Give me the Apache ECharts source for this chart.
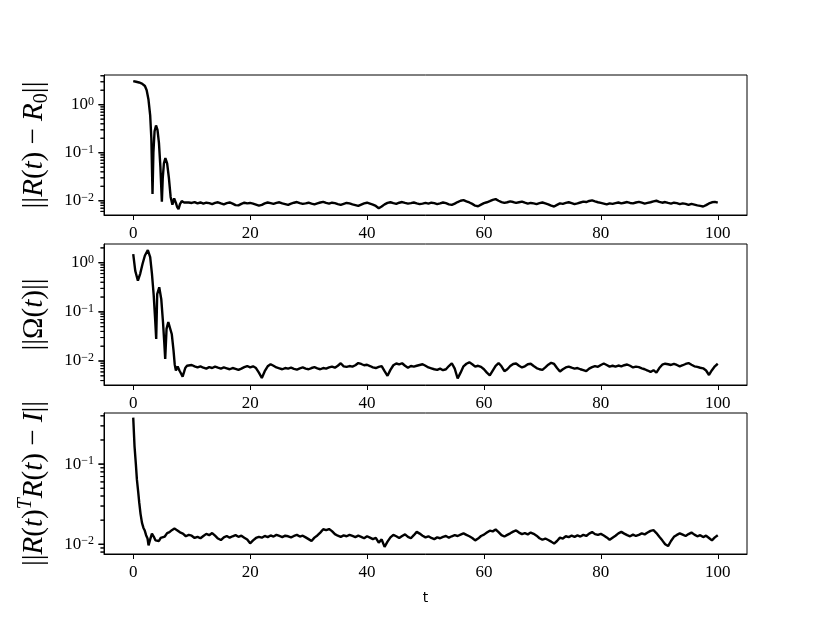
<!DOCTYPE html>
<html>
<head>
<meta charset="utf-8">
<script src="https://cdn.jsdelivr.net/npm/echarts@6/dist/echarts.min.js"></script>
<style>
html,body{margin:0;padding:0;background:#fff;}
#chart{width:830px;height:623px;}
</style>
</head>
<body>
<div id="chart"></div>
<script>
// ---------- data ----------
const xTicks = [0, 20, 40, 60, 80, 100];
const yMajorTop = [0.01, 0.1, 1];
const yMajorMid = [0.01, 0.1, 1];
const yMajorBot = [0.01, 0.1];

// early transient (t < 10)
const tHeadTop = [0, 0.5, 1.0, 1.5, 2.0, 2.3, 2.6, 2.9, 3.1, 3.3, 3.45, 3.65, 3.9, 4.15, 4.4, 4.65, 4.9, 5.05, 5.25, 5.5, 5.8, 6.1, 6.4, 6.7, 7.0, 7.3, 7.5, 7.75, 8.0, 8.3, 8.7, 9.0, 9.5];
const vHeadTop = [3.1, 3.0, 2.9, 2.75, 2.45, 2.0, 1.3, 0.6, 0.2, 0.0138, 0.1, 0.28, 0.37, 0.3, 0.16, 0.05, 0.0095, 0.03, 0.06, 0.077, 0.06, 0.03, 0.012, 0.0083, 0.0112, 0.009, 0.0075, 0.0067, 0.0085, 0.0098, 0.0092, 0.0090, 0.0092];

const tHeadMid = [0, 0.35, 0.8, 1.2, 1.6, 2.0, 2.5, 2.9, 3.2, 3.5, 3.75, 3.93, 4.1, 4.45, 4.8, 5.1, 5.3, 5.47, 5.7, 6.0, 6.2, 6.6, 6.9, 7.1, 7.3, 7.6, 7.9, 8.2, 8.45, 8.7, 8.9, 9.2, 9.5];
const vHeadMid = [1.5, 0.68, 0.43, 0.6, 0.95, 1.4, 1.8, 1.3, 0.6, 0.22, 0.07, 0.028, 0.23, 0.316, 0.18, 0.06, 0.025, 0.011, 0.045, 0.062, 0.062, 0.035, 0.016, 0.0085, 0.0064, 0.0077, 0.0064, 0.0055, 0.0048, 0.0060, 0.0072, 0.0080, 0.0085];

const tHeadBot = [0, 0.22, 0.45, 0.63, 0.85, 1.03, 1.25, 1.5, 1.75, 1.95, 2.2, 2.45, 2.62, 2.9, 3.2, 3.5, 3.8, 4.1, 4.4, 4.7, 5.0, 5.4, 5.8, 6.2, 6.6, 7.05, 7.5, 8.0, 8.5, 9.0, 9.5];
const vHeadBot = [0.38, 0.168, 0.1, 0.064, 0.045, 0.033, 0.024, 0.0185, 0.0160, 0.0150, 0.0130, 0.0118, 0.0097, 0.0115, 0.0136, 0.0125, 0.0112, 0.0116, 0.0110, 0.0120, 0.0118, 0.0125, 0.0138, 0.0142, 0.0150, 0.0157, 0.0150, 0.0141, 0.0136, 0.0126, 0.0131];

// steady-state part, sampled every 0.5 from t = 10 to t = 100
const tTail = [];
for (let i = 0; i <= 180; i++) tTail.push(10 + i * 0.5);

const vTailTop = [
0.0090,0.0094,0.0088,0.0092,0.0087,0.0091,0.0089,0.0085,0.0090,0.0093,0.0088,0.0084,0.0089,0.0092,0.0087,0.0081,0.0080,0.0086,0.0091,0.0088,
0.0090,0.0087,0.0083,0.0079,0.0082,0.0088,0.0092,0.0089,0.0086,0.0090,0.0093,0.0088,0.0085,0.0082,0.0087,0.0091,0.0094,0.0089,0.0086,0.0088,
0.0091,0.0087,0.0084,0.0088,0.0092,0.0095,0.0090,0.0087,0.0091,0.0089,0.0085,0.0082,0.0086,0.0090,0.0088,0.0084,0.0081,0.0078,0.0083,0.0088,
0.0091,0.0087,0.0083,0.0078,0.0070,0.0076,0.0084,0.0090,0.0093,0.0089,0.0086,0.0091,0.0094,0.0090,0.0087,0.0089,0.0092,0.0088,0.0085,0.0087,
0.0090,0.0087,0.0091,0.0089,0.0085,0.0088,0.0092,0.0089,0.0084,0.0082,0.0087,0.0094,0.0100,0.0103,0.0097,0.0092,0.0086,0.0079,0.0077,0.0083,
0.0089,0.0093,0.0098,0.0104,0.0108,0.0100,0.0094,0.0090,0.0093,0.0097,0.0094,0.0090,0.0093,0.0096,0.0091,0.0087,0.0090,0.0088,0.0085,0.0089,
0.0092,0.0088,0.0084,0.0079,0.0076,0.0082,0.0088,0.0086,0.0090,0.0093,0.0089,0.0085,0.0088,0.0092,0.0096,0.0094,0.0099,0.0102,0.0097,0.0093,
0.0090,0.0087,0.0084,0.0088,0.0086,0.0089,0.0092,0.0088,0.0091,0.0094,0.0090,0.0088,0.0092,0.0095,0.0091,0.0087,0.0090,0.0093,0.0097,0.0100,
0.0095,0.0091,0.0094,0.0090,0.0087,0.0091,0.0089,0.0085,0.0088,0.0086,0.0082,0.0086,0.0083,0.0080,0.0078,0.0076,0.0081,0.0088,0.0093,0.0095,
0.0091];

const vTailMid = [
0.0083,0.0078,0.0074,0.0078,0.0073,0.0070,0.0075,0.0072,0.0077,0.0073,0.0070,0.0074,0.0071,0.0068,0.0072,0.0069,0.0066,0.0070,0.0075,0.0079,
0.0074,0.0078,0.0072,0.0058,0.0045,0.0062,0.0078,0.0086,0.0080,0.0074,0.0071,0.0068,0.0072,0.0070,0.0073,0.0069,0.0067,0.0071,0.0074,0.0070,
0.0068,0.0072,0.0075,0.0071,0.0068,0.0072,0.0070,0.0074,0.0077,0.0073,0.0080,0.0090,0.0078,0.0076,0.0079,0.0077,0.0082,0.0091,0.0087,0.0082,
0.0084,0.0079,0.0074,0.0072,0.0076,0.0079,0.0062,0.0050,0.0066,0.0082,0.0089,0.0085,0.0090,0.0080,0.0073,0.0079,0.0077,0.0080,0.0083,0.0086,
0.0080,0.0074,0.0071,0.0068,0.0066,0.0070,0.0065,0.0068,0.0079,0.0090,0.0070,0.0044,0.0058,0.0078,0.0088,0.0094,0.0086,0.0077,0.0080,0.0076,
0.0068,0.0058,0.0051,0.0064,0.0080,0.0091,0.0078,0.0062,0.0068,0.0079,0.0087,0.0089,0.0080,0.0074,0.0078,0.0086,0.0088,0.0079,0.0072,0.0068,
0.0066,0.0074,0.0084,0.0092,0.0087,0.0072,0.0061,0.0068,0.0074,0.0077,0.0073,0.0070,0.0072,0.0068,0.0065,0.0062,0.0070,0.0075,0.0079,0.0076,
0.0083,0.0089,0.0083,0.0077,0.0080,0.0077,0.0081,0.0078,0.0082,0.0085,0.0080,0.0074,0.0077,0.0075,0.0071,0.0068,0.0064,0.0060,0.0065,0.0058,
0.0072,0.0084,0.0088,0.0086,0.0083,0.0087,0.0083,0.0078,0.0082,0.0087,0.0091,0.0084,0.0078,0.0076,0.0073,0.0071,0.0064,0.0052,0.0065,0.0078,
0.0088];

const vTailBot = [
0.0128,0.0120,0.0124,0.0119,0.0127,0.0135,0.0130,0.0138,0.0128,0.0118,0.0113,0.0122,0.0127,0.0121,0.0126,0.0130,0.0124,0.0128,0.0121,0.0115,
0.0103,0.0112,0.0120,0.0124,0.0121,0.0127,0.0123,0.0129,0.0125,0.0131,0.0127,0.0123,0.0128,0.0126,0.0122,0.0127,0.0131,0.0125,0.0128,0.0122,
0.0116,0.0110,0.0121,0.0129,0.0140,0.0154,0.0150,0.0155,0.0146,0.0134,0.0128,0.0124,0.0129,0.0126,0.0131,0.0127,0.0123,0.0128,0.0124,0.0119,
0.0126,0.0121,0.0116,0.0120,0.0105,0.0115,0.0093,0.0108,0.0122,0.0131,0.0126,0.0120,0.0127,0.0133,0.0124,0.0119,0.0130,0.0143,0.0136,0.0128,
0.0122,0.0126,0.0120,0.0116,0.0122,0.0119,0.0124,0.0127,0.0121,0.0126,0.0130,0.0127,0.0132,0.0137,0.0131,0.0126,0.0120,0.0112,0.0118,0.0127,
0.0132,0.0140,0.0148,0.0145,0.0153,0.0142,0.0130,0.0125,0.0131,0.0137,0.0144,0.0149,0.0140,0.0134,0.0138,0.0133,0.0140,0.0135,0.0128,0.0119,
0.0114,0.0118,0.0113,0.0108,0.0102,0.0110,0.0121,0.0118,0.0126,0.0123,0.0128,0.0124,0.0129,0.0125,0.0131,0.0127,0.0136,0.0142,0.0134,0.0131,
0.0135,0.0129,0.0122,0.0114,0.0121,0.0128,0.0137,0.0143,0.0136,0.0130,0.0126,0.0132,0.0127,0.0131,0.0137,0.0133,0.0140,0.0147,0.0150,0.0138,
0.0124,0.0112,0.0100,0.0095,0.0110,0.0124,0.0131,0.0137,0.0132,0.0127,0.0134,0.0140,0.0132,0.0126,0.0130,0.0123,0.0128,0.0120,0.0112,0.0122,
0.0130];

// axis ranges (log y)
const yRangeTop = [0.00505, 4.15];
const yRangeMid = [0.00325, 2.4];
const yRangeBot = [0.00757, 0.434];
const xRange = [-5, 105];

// ---------- build ----------
function pairs(t, v) { return t.map((x, i) => [x, v[i]]); }
const dataTop = pairs(tHeadTop.concat(tTail), vHeadTop.concat(vTailTop));
const dataMid = pairs(tHeadMid.concat(tTail), vHeadMid.concat(vTailMid));
const dataBot = pairs(tHeadBot.concat(tTail), vHeadBot.concat(vTailBot));

function minorValues(range) {
  const out = [];
  for (let e = -4; e <= 1; e++) {
    for (let k = 2; k <= 9; k++) {
      const v = +(k * Math.pow(10, e)).toPrecision(6);
      if (v >= range[0] && v <= range[1]) out.push(v);
    }
  }
  return out;
}

const SERIF = "'Liberation Serif', 'DejaVu Serif', serif";
const tickFmt = function (v) {
  const e = Math.round(Math.log10(v));
  return '{b|10}{s|' + (e < 0 ? '\u2212' : '') + Math.abs(e) + '}';
};
const tickRich = {
  b: { fontFamily: SERIF, fontSize: 17, color: '#000', lineHeight: 18, verticalAlign: 'middle' },
  s: { fontFamily: SERIF, fontSize: 12, color: '#000', lineHeight: 10, verticalAlign: 'top' }
};
const nameRich = {
  n: { fontFamily: SERIF, fontSize: 29, color: '#000', lineHeight: 36, verticalAlign: 'middle' },
  i: { fontFamily: SERIF, fontSize: 29, fontStyle: 'italic', color: '#000', lineHeight: 36, verticalAlign: 'middle' },
  sub: { fontFamily: SERIF, fontSize: 20, color: '#000', lineHeight: 20, verticalAlign: 'bottom' },
  sup: { fontFamily: SERIF, fontSize: 20, fontStyle: 'italic', color: '#000', lineHeight: 20, verticalAlign: 'top' }
};

const grids = [
  { left: 104, right: 83, top: 75, height: 140 },
  { left: 104, right: 83, top: 244, height: 141 },
  { left: 104, right: 83, top: 413, height: 141 }
].map(g => Object.assign(g, { show: true, borderColor: '#000', borderWidth: 1 }));

const xAxes = [0, 1, 2].map(i => ({
  gridIndex: i, type: 'value', min: xRange[0], max: xRange[1],
  axisLine: { show: true, onZero: false, lineStyle: { color: '#000', width: 1 } },
  splitLine: { show: false },
  axisTick: { show: true, customValues: xTicks, length: 5, inside: false, lineStyle: { color: '#000', width: 1 } },
  axisLabel: { show: true, customValues: xTicks, margin: 10, fontFamily: SERIF, fontSize: 17, color: '#000' },
  name: i === 2 ? 't' : '',
  nameLocation: 'middle', nameGap: 37,
  nameTextStyle: { fontFamily: "'DejaVu Sans', sans-serif", fontSize: 14, color: '#000' }
}));

const names = [
  '{n|||}{i|R}{n|(}{i|t}{n|) \u2212 }{i|R}{sub|0}{n|||}',
  '{n|||\u03A9(}{i|t}{n|)||}',
  '{n|||}{i|R}{n|(}{i|t}{n|)}{sup|T}{i|R}{n|(}{i|t}{n|) \u2212 }{i|I}{n|||}'
];
const ranges = [yRangeTop, yRangeMid, yRangeBot];
const majors = [yMajorTop, yMajorMid, yMajorBot];

const yAxes = [0, 1, 2].map(i => ({
  gridIndex: i, type: 'log', logBase: 10,
  min: ranges[i][0], max: ranges[i][1],
  axisLine: { show: true, onZero: false, lineStyle: { color: '#000', width: 1 } },
  splitLine: { show: false },
  axisTick: { show: false },
  axisLabel: { show: true, customValues: majors[i], margin: 10, formatter: tickFmt, rich: tickRich },
  name: names[i], nameLocation: 'middle', nameRotate: 90, nameGap: 52,
  nameTextStyle: { rich: nameRich }
}));

// y-axis tick marks (major + minor), placed through the axis scale, on a top layer
function tickSeries(i) {
  const items = majors[i].map(v => [xRange[0], v, 5]).concat(minorValues(ranges[i]).map(v => [xRange[0], v, 3]));
  return {
    type: 'custom', xAxisIndex: i, yAxisIndex: i, clip: false, zlevel: 1, z: 10,
    encode: { x: 0, y: 1 },
    data: items,
    renderItem: function (params, api) {
      const p = api.coord([api.value(0), api.value(1)]);
      const len = api.value(2);
      return {
        type: 'line',
        shape: { x1: p[0] - len - 0.5, y1: p[1], x2: p[0] + 0.5, y2: p[1] },
        style: { stroke: '#000', lineWidth: len > 4 ? 1.2 : 1 }
      };
    }
  };
}

const lineStyle = { color: '#000', width: 2.4 };
const option = {
  animation: false,
  backgroundColor: '#fff',
  grid: grids,
  xAxis: xAxes,
  yAxis: yAxes,
  series: [
    { type: 'line', xAxisIndex: 0, yAxisIndex: 0, data: dataTop, showSymbol: false, symbol: 'none', lineStyle: lineStyle, clip: true },
    { type: 'line', xAxisIndex: 1, yAxisIndex: 1, data: dataMid, showSymbol: false, symbol: 'none', lineStyle: lineStyle, clip: true },
    { type: 'line', xAxisIndex: 2, yAxisIndex: 2, data: dataBot, showSymbol: false, symbol: 'none', lineStyle: lineStyle, clip: true },
    tickSeries(0), tickSeries(1), tickSeries(2)
  ]
};
const chart = echarts.init(document.getElementById('chart'));
chart.setOption(option);

// fallback: the same tick marks as graphic lines, positioned by the axis scale
const tickGraphics = [];
[0, 1, 2].forEach(i => {
  const vals = majors[i].map(v => [v, 5]).concat(minorValues(ranges[i]).map(v => [v, 3]));
  vals.forEach(([v, len]) => {
    const p = chart.convertToPixel({ xAxisIndex: i, yAxisIndex: i }, [xRange[0], v]);
    if (!p || isNaN(p[0]) || isNaN(p[1])) return;
    tickGraphics.push({
      type: 'line', z: 100, silent: true,
      shape: { x1: p[0] - len - 0.5, y1: p[1], x2: p[0] + 0.5, y2: p[1] },
      style: { stroke: '#000', lineWidth: len > 4 ? 1.2 : 1 }
    });
  });
});
chart.setOption({ graphic: tickGraphics });
</script>
</body>
</html>
